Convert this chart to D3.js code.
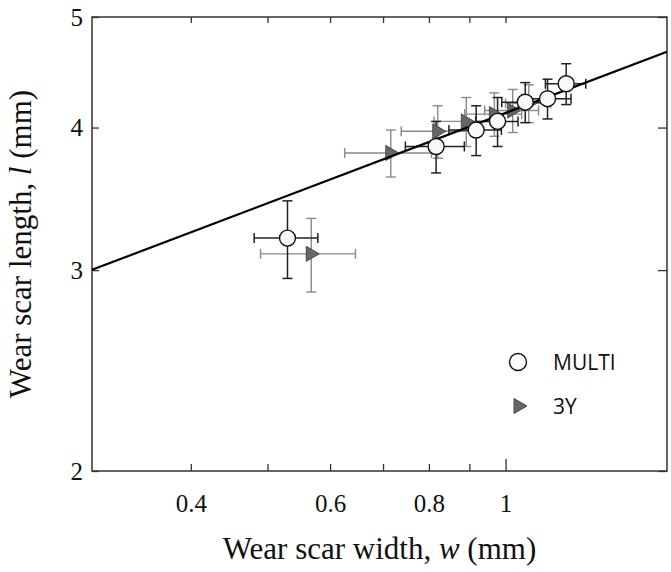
<!DOCTYPE html>
<html>
<head>
<meta charset="utf-8">
<script src="https://cdn.jsdelivr.net/npm/d3@7"></script>
<style>
  html, body { margin: 0; padding: 0; background: #fff; }
  svg { display: block; }
</style>
</head>
<body>
<svg id="chart" width="671" height="572"></svg>
<script>
// ---- data ----
const multiW    = [0.530, 0.817, 0.918, 0.977, 1.059, 1.130, 1.193];
const multiL    = [3.20, 3.85, 3.98, 4.05, 4.21, 4.24, 4.37];
const multiWErr = [0.049, 0.070, 0.070, 0.060, 0.070, 0.080, 0.070];
const multiLErr = [0.25, 0.20, 0.20, 0.20, 0.17, 0.17, 0.18];

const y3W    = [0.568, 0.716, 0.821, 0.892, 0.968, 1.021, 1.070];
const y3L    = [3.10, 3.80, 3.97, 4.05, 4.11, 4.14, 4.20];
const y3WErr = [0.078, 0.090, 0.083, 0.080, 0.080, 0.080, 0.070];
const y3LErr = [0.23, 0.18, 0.21, 0.20, 0.18, 0.18, 0.16];

const fitA = 4.12, fitB = 0.263;   // l = A * w^B

const xTickVals   = [0.4, 0.5, 0.6, 0.7, 0.8, 0.9, 1];
const xTickLabels = ["0.4", "", "0.6", "", "0.8", "", "1"];
const yTickVals   = [2, 3, 4, 5];
const yTickLabels = ["2", "3", "4", "5"];

const seriesNames = ["MULTI", "3Y"];

// ---- layout ----
const svg = d3.select("#chart");
const L = 92, R = 667, T = 17, B = 471;
const x = d3.scaleLog().domain([0.3, 1.6]).range([L, R]);
const y = d3.scaleLog().domain([2, 5]).range([B, T]);

const axisColor = "#333";
const serif = "'Liberation Serif', 'Times New Roman', serif";
const sans = "'Open Sans', 'Noto Sans', sans-serif";

// frame
svg.append("rect").attr("x", L).attr("y", T).attr("width", R - L).attr("height", B - T)
  .attr("fill", "none").attr("stroke", axisColor).attr("stroke-width", 1.5);

// bottom axis (ticks inward)
const xAxis = d3.axisBottom(x).tickValues(xTickVals)
  .tickSize(-7).tickPadding(23)
  .tickFormat((d, i) => xTickLabels[i]);
const gx = svg.append("g").attr("transform", `translate(0,${B})`).call(xAxis);
gx.select(".domain").remove();
gx.selectAll(".tick line").attr("stroke", axisColor).attr("stroke-width", 1.3)
  .attr("y2", d => d === 1 ? -12 : -7);
gx.selectAll(".tick text").attr("font-family", serif).attr("font-size", 25).attr("fill", "#111");

// top axis mirror ticks
const gxt = svg.append("g").attr("transform", `translate(0,${T})`)
  .call(d3.axisTop(x).tickValues(xTickVals).tickSize(-6).tickFormat(""));
gxt.select(".domain").remove();
gxt.selectAll(".tick line").attr("stroke", axisColor).attr("stroke-width", 1.3);

// left axis
const yAxis = d3.axisLeft(y).tickValues(yTickVals)
  .tickSize(-7).tickPadding(9)
  .tickFormat((d, i) => yTickLabels[i]);
const gy = svg.append("g").attr("transform", `translate(${L},0)`).call(yAxis);
gy.select(".domain").remove();
gy.selectAll(".tick line").attr("stroke", axisColor).attr("stroke-width", 1.3);
gy.selectAll(".tick text").attr("font-family", serif).attr("font-size", 25).attr("fill", "#111");

// right axis mirror ticks
const gyr = svg.append("g").attr("transform", `translate(${R},0)`)
  .call(d3.axisRight(y).tickValues(yTickVals).tickSize(-9).tickFormat(""));
gyr.select(".domain").remove();
gyr.selectAll(".tick line").attr("stroke", axisColor).attr("stroke-width", 1.3);

// axis titles
const xt = svg.append("text").attr("x", (L + R) / 2).attr("y", 559)
  .attr("text-anchor", "middle").attr("font-family", serif).attr("font-size", 31).attr("fill", "#111");
xt.append("tspan").text("Wear scar width, ");
xt.append("tspan").attr("font-style", "italic").text("w");
xt.append("tspan").text(" (mm)");

const yt = svg.append("text")
  .attr("transform", `translate(31,${(T + B) / 2}) rotate(-90)`)
  .attr("text-anchor", "middle").attr("font-family", serif).attr("font-size", 31).attr("fill", "#111");
yt.append("tspan").text("Wear scar length, ");
yt.append("tspan").attr("font-style", "italic").text("l");
yt.append("tspan").text(" (mm)");

// helpers
function errorBars(g, W, Lv, WE, LE, color, width, cap) {
  W.forEach((w, i) => {
    const cx = x(w), cy = y(Lv[i]);
    const x1 = x(w - WE[i]), x2 = x(w + WE[i]);
    const y1 = y(Lv[i] + LE[i]), y2 = y(Lv[i] - LE[i]);
    const gg = g.append("g").attr("stroke", color).attr("stroke-width", width).attr("fill", "none");
    gg.append("line").attr("x1", x1).attr("x2", x2).attr("y1", cy).attr("y2", cy);
    gg.append("line").attr("x1", x1).attr("x2", x1).attr("y1", cy - cap).attr("y2", cy + cap);
    gg.append("line").attr("x1", x2).attr("x2", x2).attr("y1", cy - cap).attr("y2", cy + cap);
    gg.append("line").attr("x1", cx).attr("x2", cx).attr("y1", y1).attr("y2", y2);
    gg.append("line").attr("x1", cx - cap).attr("x2", cx + cap).attr("y1", y1).attr("y2", y1);
    gg.append("line").attr("x1", cx - cap).attr("x2", cx + cap).attr("y1", y2).attr("y2", y2);
  });
}
const triPath = "M-5,-7.5 L8,0 L-5,7.5 Z";

const plot = svg.append("g");
errorBars(plot, y3W, y3L, y3WErr, y3LErr, "#8a8a8a", 1.4, 5);
errorBars(plot, multiW, multiL, multiWErr, multiLErr, "#222", 1.5, 5);

// triangles (3Y)
plot.selectAll(".tri").data(y3W).join("path")
  .attr("transform", (d, i) => `translate(${x(d)},${y(y3L[i])})`)
  .attr("d", triPath).attr("fill", "#666").attr("stroke", "#4a4a4a").attr("stroke-width", 1);

// fit line
const fitX = x.domain();
plot.append("line")
  .attr("x1", x(fitX[0])).attr("y1", y(fitA * Math.pow(fitX[0], fitB)))
  .attr("x2", x(fitX[1])).attr("y2", y(fitA * Math.pow(fitX[1], fitB)))
  .attr("stroke", "#000").attr("stroke-width", 2.2);

// circles (MULTI)
plot.selectAll(".circ").data(multiW).join("circle")
  .attr("cx", d => x(d)).attr("cy", (d, i) => y(multiL[i])).attr("r", 8)
  .attr("fill", "#f8f8f8").attr("stroke", "#111").attr("stroke-width", 1.4);

// legend
const lg = svg.append("g");
lg.append("circle").attr("cx", 518).attr("cy", 362).attr("r", 8.5)
  .attr("fill", "#fff").attr("stroke", "#111").attr("stroke-width", 1.4);
lg.append("path").attr("transform", "translate(519,406)").attr("d", triPath)
  .attr("fill", "#666").attr("stroke", "#4a4a4a").attr("stroke-width", 1);
lg.append("text").attr("x", 553).attr("y", 369.5).attr("font-family", sans).attr("font-size", 21)
  .attr("fill", "#111").text(seriesNames[0]);
lg.append("text").attr("x", 553).attr("y", 413.5).attr("font-family", sans).attr("font-size", 21)
  .attr("fill", "#111").text(seriesNames[1]);
</script>
</body>
</html>
